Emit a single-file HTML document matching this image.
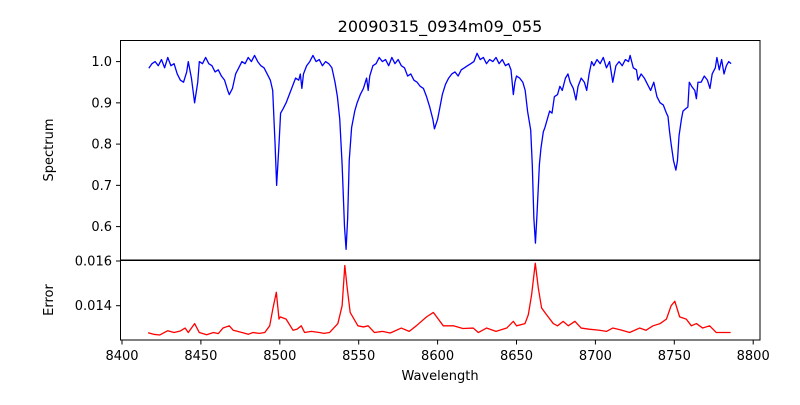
<!DOCTYPE html>
<html><head><meta charset="utf-8"><style>
body{margin:0;background:#fff}
svg text{font-family:"DejaVu Sans","Liberation Sans",sans-serif;fill:#000}
</style></head><body>
<svg id="chart" width="800" height="400" xmlns="http://www.w3.org/2000/svg">
<rect width="800" height="400" fill="#fff"/>
<text x="440" y="32" font-size="16" text-anchor="middle">20090315_0934m09_055</text>
<g id="top"></g><g id="bot"></g>
<text transform="translate(53,150) rotate(-90)" font-size="13" text-anchor="middle">Spectrum</text>
<text transform="translate(53,300) rotate(-90)" font-size="13" text-anchor="middle">Error</text>
<text x="440" y="380" font-size="13" text-anchor="middle">Wavelength</text>
</svg>
<script>
const specWave=[8417,8419,8421,8423,8425,8427,8429,8431,8433,8435,8437,8439,8441,8442,8444,8446,8448,8449,8451,8453,8455,8457,8459,8461,8463,8465,8467,8468,8470,8472,8474,8476,8478,8480,8482,8484,8486,8488,8490,8492,8494,8495.5,8497,8498,8499.5,8500.5,8502,8504,8506,8508,8510,8512,8513,8514,8515,8517,8519,8521,8523,8525,8527,8529,8531,8533,8535,8536.5,8538,8539.5,8541,8542,8543,8544,8545.5,8547.5,8549,8551,8553,8555,8556,8557,8559,8561,8563,8565,8567,8569,8571,8573,8575,8577,8579,8581,8583,8585,8587,8589,8591,8593,8595,8597,8598,8600,8601.5,8603,8605,8607,8609,8611,8613,8615,8617,8619,8621,8623,8625,8627,8629,8631,8633,8635,8637,8639,8641,8643,8645,8646.5,8648,8649,8650,8652,8654,8655.5,8657,8659,8660,8661,8662,8663,8664.5,8665.5,8667,8668,8669.5,8671,8672.5,8674,8676,8677.5,8679,8681,8682.6,8684,8686,8687.7,8689,8691,8693,8694.5,8696,8697.6,8699,8701,8703,8705,8707,8709,8711,8713,8715,8717,8719,8721,8722,8724,8726,8727,8729,8731,8733,8735,8737,8739,8741,8743,8745,8746,8747,8748,8749.5,8751,8752,8753,8754.5,8755.5,8757,8758.6,8759.5,8761,8763,8764,8765,8767,8769,8771,8772.6,8774,8776,8777,8778.5,8780,8781.5,8783,8784.5,8786];
const specFlux=[0.984,0.995,1.0,0.99,1.005,0.985,1.01,0.99,0.995,0.97,0.955,0.95,0.975,1.0,0.96,0.9,0.95,1.0,0.995,1.01,0.995,0.99,0.975,0.98,0.965,0.955,0.93,0.92,0.935,0.97,0.985,1.0,0.995,1.01,1.0,1.015,1.0,0.99,0.985,0.97,0.955,0.93,0.8,0.7,0.8,0.875,0.885,0.9,0.92,0.94,0.96,0.955,0.97,0.935,0.97,0.99,1.0,1.015,1.0,1.005,0.99,1.0,0.995,0.985,0.95,0.915,0.86,0.75,0.6,0.545,0.62,0.76,0.84,0.88,0.9,0.92,0.935,0.96,0.93,0.965,0.99,0.995,1.01,1.0,1.005,0.99,1.01,0.995,1.005,0.99,0.985,0.965,0.97,0.955,0.95,0.94,0.935,0.915,0.89,0.86,0.837,0.86,0.89,0.92,0.945,0.96,0.97,0.975,0.965,0.98,0.985,0.99,0.995,1.0,1.02,1.005,1.01,0.995,1.005,1.0,1.01,0.995,1.005,0.99,0.995,0.98,0.92,0.95,0.965,0.96,0.95,0.93,0.88,0.834,0.75,0.62,0.56,0.63,0.75,0.79,0.83,0.84,0.86,0.88,0.875,0.915,0.92,0.94,0.93,0.96,0.97,0.95,0.935,0.907,0.94,0.96,0.95,0.93,0.97,1.0,0.99,1.005,0.995,1.01,0.985,1.0,0.95,0.99,1.0,0.99,1.005,1.0,1.015,0.985,0.98,0.955,0.97,0.96,0.945,0.93,0.95,0.915,0.9,0.895,0.875,0.867,0.83,0.8,0.76,0.737,0.76,0.82,0.86,0.88,0.885,0.89,0.95,0.94,0.93,0.91,0.95,0.95,0.965,0.955,0.935,0.97,0.985,1.01,0.98,1.005,0.97,0.99,1.0,0.995];
const errWave=[8416.5,8420,8424,8429,8433,8437,8440,8442,8446,8449,8453.6,8458,8461,8464,8468,8470.5,8476,8480,8483,8487,8490.5,8493.6,8495.7,8497.8,8499.5,8500.3,8504,8508.4,8511,8513.6,8515.7,8520,8525,8528,8531.5,8536.8,8539.5,8541.2,8542.7,8544.6,8549.5,8553,8556,8560,8565,8570,8577,8582,8586.5,8593,8597.3,8603.6,8610,8616,8622.6,8625.8,8631,8637,8643.8,8648,8650,8655.4,8657.5,8659.6,8661.9,8663.8,8665.9,8669,8673.3,8676,8679.6,8682.8,8687,8691,8696,8702.6,8707,8711,8716,8721.7,8728,8732,8736.5,8741,8745,8748,8750.3,8753.4,8757.6,8760.8,8764,8768,8772.4,8776.6,8780.8,8785.7];
const errVal=[0.01279,0.01272,0.01269,0.01288,0.0128,0.01287,0.013,0.0128,0.0132,0.0128,0.0127,0.0128,0.01275,0.013,0.0131,0.0129,0.0128,0.01272,0.0128,0.01276,0.0128,0.0131,0.0139,0.0146,0.0134,0.0135,0.0134,0.0129,0.01295,0.0131,0.0128,0.01285,0.0128,0.01276,0.0128,0.0132,0.014,0.0158,0.0148,0.0137,0.0131,0.01305,0.0131,0.0128,0.01285,0.01278,0.013,0.01285,0.0131,0.0135,0.0137,0.0131,0.0131,0.01298,0.013,0.0128,0.013,0.01285,0.013,0.0133,0.0131,0.0132,0.0136,0.0145,0.0159,0.0148,0.0139,0.0136,0.0132,0.0131,0.0133,0.0131,0.0133,0.013,0.01295,0.0129,0.01285,0.013,0.01292,0.0128,0.013,0.0129,0.0131,0.0132,0.0134,0.014,0.0142,0.0135,0.0134,0.0131,0.0132,0.013,0.0131,0.0128,0.0128,0.0128];
const xTicks=[8400,8450,8500,8550,8600,8650,8700,8750,8800];
const specTicks=[0.6,0.7,0.8,0.9,1.0];
const errTicks=[0.014,0.016];
const NS="http://www.w3.org/2000/svg";
const svg=document.getElementById('chart');
const X=w=>122+(w-8400)*1.578;
const YS=f=>61.6+(1.0-f)*412.5;
const YE=e=>261+(0.016-e)*22350;
function mk(tag,at,parent){const el=document.createElementNS(NS,tag);for(const k in at)el.setAttribute(k,at[k]);(parent||svg).appendChild(el);return el;}
// spectrum line
let d=specWave.map((w,i)=>(i?'L':'M')+X(w).toFixed(2)+','+YS(specFlux[i]).toFixed(2)).join('');
const sl=mk('path',{d:d,fill:'none',stroke:'#0000ff','stroke-width':1.3,'stroke-linejoin':'round'});


d=errWave.map((w,i)=>(i?'L':'M')+X(w).toFixed(2)+','+YE(errVal[i]).toFixed(2)).join('');
const el2=mk('path',{d:d,fill:'none',stroke:'#ff0000','stroke-width':1.3,'stroke-linejoin':'round'});


// frames
const f1=mk('rect',{x:120.5,y:40.5,width:639.5,height:219.5,fill:'none',stroke:'#000','stroke-width':1});


const f2=mk('rect',{x:120.5,y:260.5,width:639.5,height:79.5,fill:'none',stroke:'#000','stroke-width':1});


specTicks.forEach(t=>{const y=YS(t);
mk('line',{x1:116,x2:120.5,y1:y,y2:y,stroke:'#000'});
const tx=mk('text',{x:112,y:y+4.5,'font-size':13,'text-anchor':'end'});tx.textContent=t.toFixed(1);

});
errTicks.forEach(t=>{const y=YE(t);
mk('line',{x1:116,x2:120.5,y1:y,y2:y,stroke:'#000'});
const tx=mk('text',{x:112,y:y+4.5,'font-size':13,'text-anchor':'end'});tx.textContent=t.toFixed(3);

});
xTicks.forEach(t=>{const x=X(t);
mk('line',{x1:x,x2:x,y1:340,y2:344.5,stroke:'#000'});
const tx=mk('text',{x:x,y:360,'font-size':13,'text-anchor':'middle'});tx.textContent=t;

});
</script>
</body></html>
